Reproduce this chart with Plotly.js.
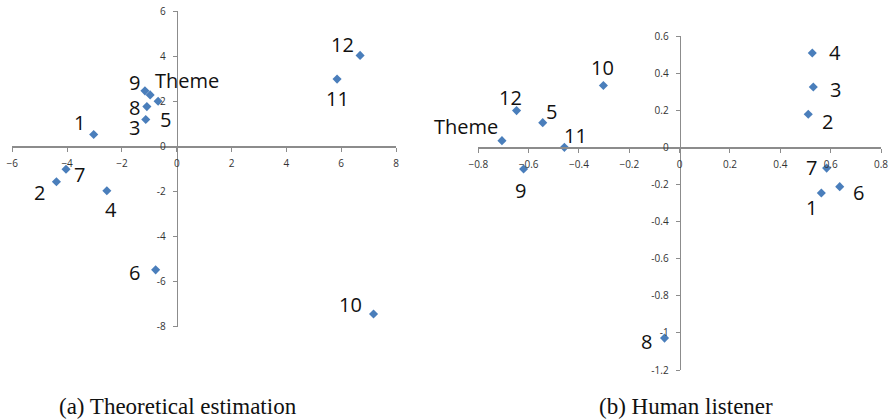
<!DOCTYPE html>
<html>
<head>
<meta charset="utf-8">
<script src="https://cdn.plot.ly/plotly-3.0.1.min.js"></script>
<style>html,body{margin:0;padding:0;background:#fff;}#chart{width:893px;height:420px;}</style>
</head>
<body>
<div id="chart"></div>
<script>
// ---- Data: (a) Theoretical estimation ----
const leftLabels = ['1','2','3','4','5','6','7','8','9','10','11','12','Theme'];
const leftX = [-3.03, -4.39, -1.13, -2.55, -0.68, -0.77, -4.04, -1.09, -1.16, 7.18, 5.85, 6.69, -0.97];
const leftY = [0.52, -1.57, 1.19, -1.97, 2.00, -5.48, -1.02, 1.76, 2.46, -7.44, 2.98, 4.03, 2.28];

// ---- Data: (b) Human listener ----
const rightLabels = ['1','2','3','4','5','6','7','8','9','10','11','12','Theme'];
const rightX = [0.563, 0.511, 0.531, 0.527, -0.544, 0.636, 0.584, -0.060, -0.620, -0.303, -0.458, -0.648, -0.706];
const rightY = [-0.246, 0.178, 0.325, 0.508, 0.133, -0.212, -0.112, -1.028, -0.117, 0.333, 0.000, 0.198, 0.036];

// ---- Tick labels ----
const leftXTicks = [-6, -4, -2, 0, 2, 4, 6, 8];
const leftXTickText = ['\u22126', '\u22124', '\u22122', '0', '2', '4', '6', '8'];
const leftYTicks = [-8, -6, -4, -2, 0, 2, 4, 6];
const leftYTickText = ['-8', '-6', '-4', '-2', '0', '2', '4', '6'];
const rightXTicks = [-0.8, -0.6, -0.4, -0.2, 0, 0.2, 0.4, 0.6, 0.8];
const rightXTickText = ['\u22120.8', '\u22120.6', '\u22120.4', '\u22120.2', '0', '0.2', '0.4', '0.6', '0.8'];
const rightYTicks = [-1.2, -1, -0.8, -0.6, -0.4, -0.2, 0, 0.2, 0.4, 0.6];
const rightYTickText = ['-1.2', '-1', '-0.8', '-0.6', '-0.4', '-0.2', '0', '0.2', '0.4', '0.6'];

const captions = ['(a) Theoretical estimation', '(b) Human listener'];

// ---- Styles (label offsets in px: dx right, dy down) ----
const leftOffX = [-14, -17, -11, 4, 7, -21, 13, -12, -10, -23, 0, -18, 37];
const leftOffY = [-11, 12, 9, 20, 19, 4, 6, 2, -7, -9, 20, -10, -13];
const rightOffX = [-10, 19, 22, 23, 9, 19, -15, -18, -3, -1, 11, -6, -36];
const rightOffY = [16, 8, 3, 0, -10, 7, 0, 4, 22, -17, -11, -12, -13];

const W = 893, H = 420;
const leftDom = {x: [12.3 / W, 396 / W], y: [1 - 326.7 / H, 1 - 11 / H]};
const rightDom = {x: [478.3 / W, 881 / W], y: [1 - 370 / H, 1 - 36 / H]};
const leftRange = {x: [-6, 8], y: [-8, 6]};
const rightRange = {x: [-0.8, 0.8], y: [-1.2, 0.6]};

function zeroPos(dom, range) {
  return dom[0] + (0 - range[0]) / (range[1] - range[0]) * (dom[1] - dom[0]);
}

const markerColor = '#4A7EBB';
const axisColor = '#8C8C8C';
const tickFont = {family: 'Open Sans, sans-serif', size: 10, color: '#333333'};
const labelFont = {family: 'Open Sans, sans-serif', size: 20, color: '#111111'};

function axisCommon(extra) {
  return Object.assign({
    showgrid: false, zeroline: false, showline: true, linecolor: axisColor, linewidth: 1.5,
    ticks: 'outside', ticklen: 4, tickcolor: axisColor, tickwidth: 1,
    tickfont: tickFont, tickmode: 'array', anchor: 'free', fixedrange: true
  }, extra);
}

const traces = [
  {x: leftX, y: leftY, xaxis: 'x', yaxis: 'y', type: 'scatter', mode: 'markers',
   marker: {symbol: 'diamond', size: 7, color: markerColor}, hoverinfo: 'skip', cliponaxis: false},
  {x: rightX, y: rightY, xaxis: 'x2', yaxis: 'y2', type: 'scatter', mode: 'markers',
   marker: {symbol: 'diamond', size: 7, color: markerColor}, hoverinfo: 'skip', cliponaxis: false}
];

const annotations = [];
leftLabels.forEach((t, i) => annotations.push({
  x: leftX[i], y: leftY[i], xref: 'x', yref: 'y', text: t, showarrow: false,
  xanchor: 'center', yanchor: 'middle', xshift: leftOffX[i], yshift: -leftOffY[i] + 1, font: labelFont
}));
rightLabels.forEach((t, i) => annotations.push({
  x: rightX[i], y: rightY[i], xref: 'x2', yref: 'y2', text: t, showarrow: false,
  xanchor: 'center', yanchor: 'middle', xshift: rightOffX[i], yshift: -rightOffY[i] + 1, font: labelFont
}));
const capFont = {family: 'Liberation Serif, Times New Roman, serif', size: 23, color: '#111'};
annotations.push({x: 178.4 / W, y: 1 - 406 / H, xref: 'paper', yref: 'paper', text: captions[0],
  showarrow: false, xanchor: 'center', yanchor: 'middle', font: capFont});
annotations.push({x: 685.7 / W, y: 1 - 406 / H, xref: 'paper', yref: 'paper', text: captions[1],
  showarrow: false, xanchor: 'center', yanchor: 'middle', font: capFont});

const layout = {
  width: W, height: H, margin: {l: 0, r: 0, t: 0, b: 0},
  paper_bgcolor: '#fff', plot_bgcolor: 'rgba(0,0,0,0)', showlegend: false,
  xaxis: axisCommon({domain: leftDom.x, range: leftRange.x, tickvals: leftXTicks, ticktext: leftXTickText,
    position: zeroPos(leftDom.y, leftRange.y), ticklabelstandoff: 3}),
  yaxis: axisCommon({domain: leftDom.y, range: leftRange.y, tickvals: leftYTicks, ticktext: leftYTickText,
    position: zeroPos(leftDom.x, leftRange.x), ticklabelstandoff: 5}),
  xaxis2: axisCommon({domain: rightDom.x, range: rightRange.x, tickvals: rightXTicks, ticktext: rightXTickText,
    position: zeroPos(rightDom.y, rightRange.y), ticklabelstandoff: 3}),
  yaxis2: axisCommon({domain: rightDom.y, range: rightRange.y, tickvals: rightYTicks, ticktext: rightYTickText,
    position: zeroPos(rightDom.x, rightRange.x), ticklabelstandoff: 5}),
  annotations: annotations
};

Plotly.newPlot('chart', traces, layout, {staticPlot: true, displayModeBar: false});
</script>
</body>
</html>
